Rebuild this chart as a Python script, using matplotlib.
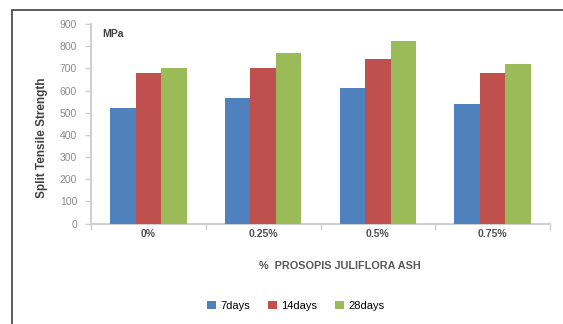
import matplotlib
matplotlib.use("Agg")
import matplotlib.pyplot as plt
import numpy as np
from matplotlib.patches import Rectangle

categories = ["0%", "0.25%", "0.5%", "0.75%"]
series_names = ["7days", "14days", "28days"]
days7 = [520, 565, 610, 540]
days14 = [680, 702, 740, 680]
days28 = [702, 767, 825, 720]
colors = ["#4F81BD", "#C0504D", "#9BBB59"]
yticks = [0, 100, 200, 300, 400, 500, 600, 700, 800, 900]

plt.rcParams["font.family"] = ["Liberation Sans", "DejaVu Sans"]

fig = plt.figure(figsize=(5.63, 3.24), dpi=100)
fig.patch.set_facecolor("white")

# outer chart frame (top and left edges visible)
fig.patches.append(Rectangle((12 / 563, -0.1), 1.2, 1 - 10 / 324 + 0.1,
                             transform=fig.transFigure, fill=False,
                             edgecolor="#404040", linewidth=1.2))

ax = fig.add_axes([91 / 563, 100.5 / 324, 459 / 563, 199.5 / 324])

x = np.arange(len(categories))
w = 0.222
for k, vals in enumerate([days7, days14, days28]):
    ax.bar(x + (k - 1) * w, vals, width=w, color=colors[k],
           label=series_names[k], zorder=3)

ax.set_xlim(-0.5, len(categories) - 0.5)
ax.set_ylim(0, 900)
ax.set_yticks(yticks)
ax.set_yticklabels([str(t) for t in yticks], fontsize=7.5, color="#8a8a8a")
ax.set_xticks(x)
ax.set_xticklabels(categories, fontsize=7.5, color="#505050", fontweight="bold")
ax.tick_params(axis="x", length=0, pad=4)
ax.tick_params(axis="y", length=4, color="#d0d0d0", width=1, pad=6)

# category separator ticks on the x axis
ax.set_xticks(np.arange(-0.5, len(categories) + 0.5, 1), minor=True)
ax.tick_params(axis="x", which="minor", length=4, color="#d0d0d0", width=1)

for s in ["top", "right"]:
    ax.spines[s].set_visible(False)
for s in ["left", "bottom"]:
    ax.spines[s].set_color("#d0d0d0")
    ax.spines[s].set_linewidth(1.5)

ax.text(0.025, 0.95, "MPa", transform=ax.transAxes, fontsize=7.5,
        fontweight="bold", color="#404040", va="center", ha="left")

fig.text(42 / 563, 1 - 138 / 324, "Split Tensile Strength", rotation=90,
         fontsize=8.5, fontweight="bold", color="#404040",
         ha="center", va="center")
fig.text(340 / 563, 1 - 266 / 324, "%  PROSOPIS JULIFLORA ASH",
         fontsize=7.8, fontweight="bold", color="#585858",
         ha="center", va="center")

fig.legend(loc="center", bbox_to_anchor=(296 / 563, 1 - 306 / 324), ncol=3,
           frameon=False, fontsize=8, handlelength=0.8, handleheight=0.8,
           handletextpad=0.4, columnspacing=1.6)

fig.savefig("out.png", dpi=100)
